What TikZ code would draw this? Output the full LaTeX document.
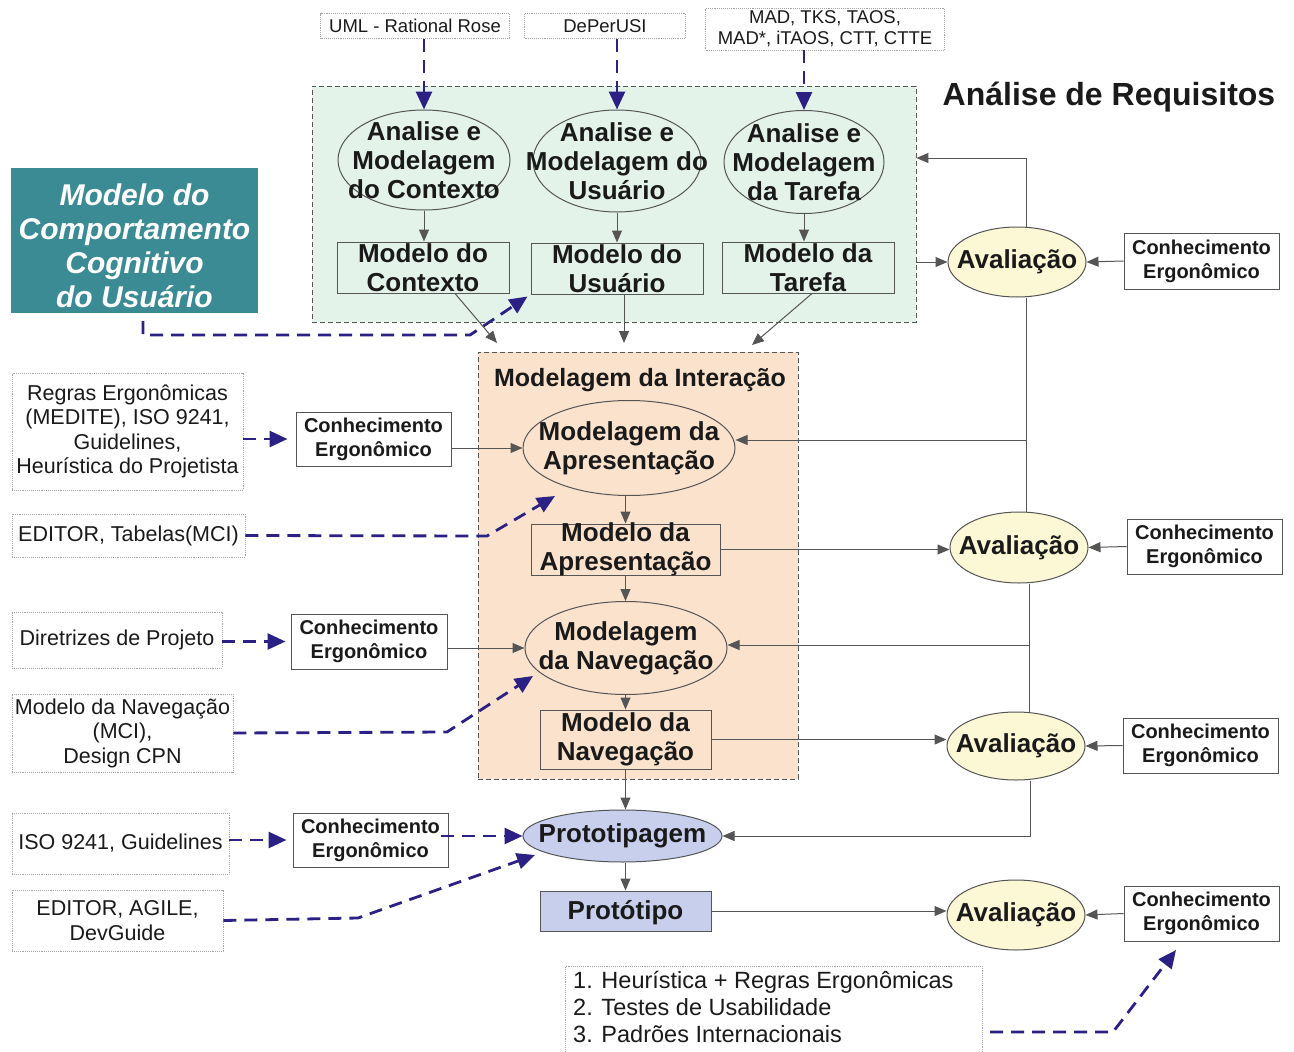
\documentclass[tikz,border=0pt]{standalone}
\usepackage{fontspec}
\setmainfont{Liberation Sans}
\usetikzlibrary{arrows.meta,shapes.geometric}
\definecolor{ink}{HTML}{1A1A1A}
\definecolor{edge}{HTML}{555555}
\definecolor{navy}{HTML}{2B2185}
\definecolor{reqfill}{HTML}{E3F3EA}
\definecolor{intfill}{HTML}{FBE2CD}
\definecolor{evalfill}{HTML}{FCF7D5}
\definecolor{protofill}{HTML}{C7CFEC}
\definecolor{cogfill}{HTML}{3A8B93}
\newcommand\fsz[2]{\fontsize{#1}{#2}\selectfont}

\begin{document}
\begin{tikzpicture}[x=1pt,y=-1pt,
  region/.style={draw=edge, dash pattern=on 5pt off 3pt, line width=0.9pt, inner sep=0pt},
  src/.style={draw=gray!70, densely dotted, line width=0.9pt, fill=white, inner sep=0pt, align=center, text=ink, font=\fsz{18.5}{21}},
  inbox/.style={draw=gray!70, densely dotted, line width=0.9pt, fill=white, inner sep=0pt, align=center, text=ink, font=\fsz{21.5}{24.5}},
  frame/.style={draw=edge, line width=1pt, inner sep=0pt},
  ergo/.style={draw=edge, line width=1pt, fill=white, inner sep=0pt, align=center, text=ink, font=\bfseries\fsz{20}{24}},
  oval/.style={ellipse, draw=edge, line width=1pt, inner sep=0pt},
  olabel/.style={align=center, text=ink, font=\bfseries\fsz{26}{29}, inner sep=0pt},
  evalnode/.style={oval, fill=evalfill, minimum width=138, minimum height=70},
  flow/.style={draw=edge, line width=1pt, -{Triangle[length=12pt,width=10pt]}},
  plain/.style={draw=edge, line width=1pt},
  tool/.style={draw=navy, line width=2.8pt, dash pattern=on 13pt off 8pt, -{Triangle[length=18pt,width=16pt]}},
]
\fill[white] (0,0) rectangle (1294,1052);
\useasboundingbox (0,0) rectangle (1294,1052);

% ---------- regions ----------
\node[region, fill=reqfill, minimum width=604, minimum height=236] (req) at (614,204) {};
\node[region, fill=intfill, minimum width=320, minimum height=427] (inter) at (638,565.5) {};
\node[font=\bfseries\fsz{32}{36}, text=ink, inner sep=0pt] (reqtitle) at (1109,97) {Análise de Requisitos};
\node[font=\bfseries\fsz{25}{29}, text=ink, inner sep=0pt] (intertitle) at (640,380) {Modelagem da Interação};

% ---------- tools for requirement analysis ----------
\node[src, minimum width=189, minimum height=25] (uml) at (415,26) {UML - Rational Rose};
\node[src, minimum width=161, minimum height=25] (deper) at (605,26) {DePerUSI};
\node[src, minimum width=239, minimum height=42] (mad) at (825,29) {MAD, TKS, TAOS,\\MAD*, iTAOS, CTT, CTTE};

% ---------- requirement analysis ----------
\node[oval, minimum width=172, minimum height=100] (e1) at (424,160) {};
\node[olabel] (e1t) at (e1) {Analise e\\Modelagem\\do Contexto};
\node[oval, minimum width=168, minimum height=102] (e2) at (617,161) {};
\node[olabel] (e2t) at (e2) {Analise e\\Modelagem do\\Usuário};
\node[oval, minimum width=160, minimum height=103] (e3) at (804,162) {};
\node[olabel] (e3t) at (e3) {Analise e\\Modelagem\\da Tarefa};

\node[frame, minimum width=172, minimum height=51] (b1) at (423,267.5) {};
\node[olabel] (b1t) at (b1) {Modelo do\\Contexto};
\node[frame, minimum width=172, minimum height=51] (b2) at (617,268.5) {};
\node[olabel] (b2t) at (b2) {Modelo do\\Usuário};
\node[frame, minimum width=172, minimum height=51] (b3) at (808,267.5) {};
\node[olabel] (b3t) at (b3) {Modelo da\\Tarefa};

% ---------- cognitive model ----------
\node[fill=cogfill, minimum width=247, minimum height=145, inner sep=0pt] (cog) at (134.5,240.5) {};
\node[inner sep=0pt, align=center, text=white, font=\bfseries\itshape\fsz{30}{34}] (cogt) at (134.5,246)
      {Modelo do\\Comportamento\\Cognitivo\\do Usuário};

% ---------- interaction modelling ----------
\node[oval, minimum width=212, minimum height=95] (e4) at (629,448) {};
\node[olabel] (e4t) at (e4) {Modelagem da\\Apresentação};
\node[frame, minimum width=189, minimum height=51] (b4) at (625.5,549.5) {};
\node[olabel] (b4t) at (b4) {Modelo da\\Apresentação};
\node[oval, minimum width=202, minimum height=93] (e5) at (626,648) {};
\node[olabel] (e5t) at (e5) {Modelagem\\da Navegação};
\node[frame, minimum width=171, minimum height=59] (b5) at (625.5,739.5) {};
\node[olabel] (b5t) at (b5) {Modelo da\\Navegação};

% ---------- prototyping ----------
\node[oval, fill=protofill, minimum width=199, minimum height=52] (e6) at (622.5,836) {};
\node[olabel] (e6t) at (e6) {Prototipagem};
\node[frame, fill=protofill, minimum width=171, minimum height=40] (b6) at (625.5,911) {};
\node[olabel] (b6t) at ([yshift=-2pt]b6) {Protótipo};

% ---------- evaluation ----------
\node[evalnode] (a1) at (1017,262) {};
\node[olabel] (a1t) at (a1) {Avaliação};
\node[evalnode, minimum height=71] (a2) at (1019,547.5) {};
\node[olabel] (a2t) at (a2) {Avaliação};
\node[evalnode, minimum height=68] (a3) at (1016,746) {};
\node[olabel] (a3t) at (a3) {Avaliação};
\node[evalnode] (a4) at (1016,915) {};
\node[olabel] (a4t) at (a4) {Avaliação};

\node[ergo, minimum width=155, minimum height=56] (k1) at (1201.5,261) {Conhecimento\\Ergonômico};
\node[ergo, minimum width=155, minimum height=55] (k2) at (1204.5,546.5) {Conhecimento\\Ergonômico};
\node[ergo, minimum width=155, minimum height=55] (k3) at (1200.5,745.5) {Conhecimento\\Ergonômico};
\node[ergo, minimum width=155, minimum height=55] (k4) at (1201.5,913.5) {Conhecimento\\Ergonômico};

% ---------- inputs on the left ----------
\node[inbox, minimum width=231, minimum height=117] (l1) at (127.5,431.5)
      {Regras Ergonômicas\\(MEDITE), ISO 9241,\\Guidelines,\\Heurística do Projetista};
\node[ergo, minimum width=155, minimum height=54] (c1) at (373.5,439) {Conhecimento\\Ergonômico};
\node[inbox, minimum width=233, minimum height=43] (l2) at (128.5,535.5) {EDITOR, Tabelas(MCI)};
\node[inbox, minimum width=210, minimum height=56] (l3) at (117,640) {Diretrizes de Projeto};
\node[ergo, minimum width=156, minimum height=55] (c2) at (369,641.5) {Conhecimento\\Ergonômico};
\node[inbox, minimum width=221, minimum height=78] (l4) at (122.5,733) {Modelo da Navegação\\(MCI),\\Design CPN};
\node[inbox, minimum width=217, minimum height=61] (l5) at (120.5,843.5) {ISO 9241, Guidelines};
\node[ergo, minimum width=155, minimum height=54] (c3) at (370.5,840) {Conhecimento\\Ergonômico};
\node[inbox, minimum width=211, minimum height=61] (l6) at (117.5,920.5) {EDITOR, AGILE,\\DevGuide};

% ---------- evaluation methods ----------
\node[draw=gray!70, densely dotted, line width=0.9pt, minimum width=417, minimum height=100,
      inner sep=0pt, anchor=north west] (heurbox) at (565,966) {};
\node[anchor=north west, align=left, inner sep=0pt, text=ink, font=\fsz{23.5}{27}] (heur) at (573,971)
      {1. Heurística + Regras Ergonômicas\\2. Testes de Usabilidade\\3. Padrões Internacionais};

% ---------- free ends and bends ----------
\coordinate (in1) at (497,343);
\coordinate (in2) at (624,343);
\coordinate (in3) at (752,345);
\coordinate (cogout) at (143,321);
\coordinate (cogbend) at (470,335);
\coordinate (fb1) at (1026,158);
\coordinate (j1) at (1026,440);
\coordinate (j2) at (1029,645);
\coordinate (bend2) at (487,536);
\coordinate (tip2) at (555,496);
\coordinate (bend4) at (447,732);
\coordinate (tip4) at (533,676);
\coordinate (bend6) at (358,918);
\coordinate (tip6) at (535,855);
\coordinate (start7) at (990,1032);
\coordinate (bend7) at (1113,1032);
\coordinate (tip7) at (1176,950);

% ---------- tool inputs (dashed) ----------
\draw[tool] (uml.south -| e1.north) -- (e1.north);
\draw[tool] (deper.south -| e2.north) -- (e2.north);
\draw[tool] (mad.south -| e3.north) -- (e3.north);
\draw[tool] (cogout) -- (cogout |- cogbend) -- (cogbend) -- ([xshift=-3pt,yshift=-2pt]b2.south west);
\draw[tool] (l1.east |- c1.west) -- ([xshift=-8pt]c1.west);
\draw[tool] (l2.east) -- (bend2) -- (tip2);
\draw[tool] (l3.east |- c2.west) -- ([xshift=-5pt]c2.west);
\draw[tool] (l4.east) -- (bend4) -- (tip4);
\draw[tool] (l5.east |- c3.west) -- ([xshift=-6pt]c3.west);
\draw[tool] ([xshift=-8pt]c3.east |- e6.west) -- (e6.west);
\draw[tool] (l6.east) -- (bend6) -- (tip6);
\draw[tool] (start7) -- (bend7) -- (tip7);

% ---------- main flow ----------
\draw[flow] (e1.south) -- (e1.south |- b1.north);
\draw[flow] (e2.south) -- (e2.south |- b2.north);
\draw[flow] (e3.south) -- (e3.south |- b3.north);
\draw[flow] ([xshift=32pt]b1.south) -- (in1);
\draw[flow] ([xshift=7pt]b2.south) -- (in2);
\draw[flow] ([xshift=4pt]b3.south) -- (in3);
\draw[flow] (e4.south -| b4.north) -- (b4.north);
\draw[flow] (b4.south) -- (b4.south |- e5.north);
\draw[flow] (e5.south -| b5.north) -- (b5.north);
\draw[flow] (b5.south) -- (b5.south |- e6.north);
\draw[flow] (e6.south -| b6.north) -- (b6.north);
\draw[flow] (c1.east |- e4.west) -- (e4.west);
\draw[flow] (c2.east |- e5.west) -- (e5.west);

% ---------- evaluation loops ----------
\draw[flow] (req.east |- a1) -- (a1.west);
\draw[flow] ([xshift=9pt]a1.north) -- (fb1) -- (fb1 -| req.east);
\draw[plain] ([xshift=9pt]a1.south) -- ([xshift=9pt]a1.south |- a2.north);
\draw[flow] (j1) -- (j1 -| e4.east);
\draw[plain] ([xshift=10pt]a2.south) -- ([xshift=10pt]a2.south |- a3.north);
\draw[flow] (j2) -- (j2 -| e5.east);
\draw[flow] ([xshift=14pt]a3.south) |- (e6.east);
\draw[flow] (b4.east) -- (b4.east -| a2.west);
\draw[flow] (b5.east) -- (b5.east -| a3.west);
\draw[flow] (b6.east) -- (b6.east -| a4.west);
\draw[flow] (k1.west) -- (a1.east);
\draw[flow] (k2.west) -- (a2.east);
\draw[flow] (k3.west) -- (a3.east);
\draw[flow] (k4.west) -- (a4.east);
\end{tikzpicture}
\end{document}
